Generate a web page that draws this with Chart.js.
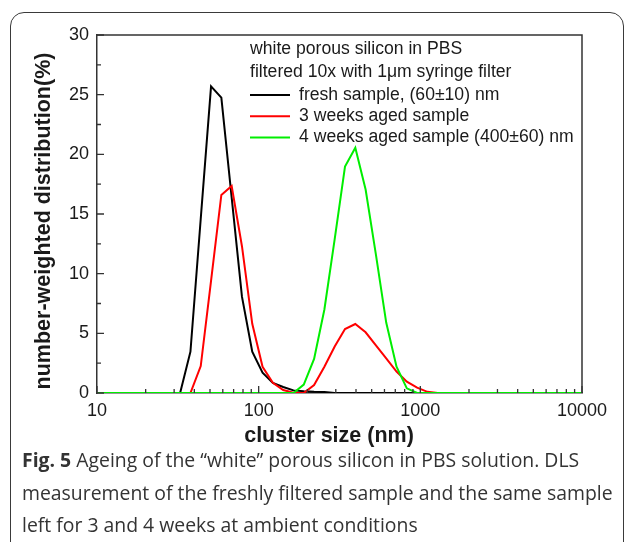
<!DOCTYPE html>
<html>
<head>
<meta charset="utf-8">
<script src="https://cdn.jsdelivr.net/npm/chart.js@4/dist/chart.umd.min.js"></script>
<style>
  html, body { margin: 0; padding: 0; background: #fff; }
  #wrap { position: relative; width: 630px; height: 542px; overflow: hidden; background: #fff; }
  #frame {
    position: absolute; left: 10px; top: 12px; width: 614px; height: 700px;
    border: 1.5px solid #3a3a3a; border-radius: 14px; box-sizing: border-box;
  }
  #dls-chart { position: absolute; left: 0; top: 0; }
  #caption {
    position: absolute; left: 22px; top: 444px; width: 600px;
    font-family: "Open Sans", "Noto Sans", sans-serif; font-size: 19.4px;
    line-height: 32.5px; color: #333; white-space: nowrap;
  }
  #caption b { font-weight: 700; }
</style>
</head>
<body>
<div id="wrap">
  <div id="frame"></div>
  <canvas id="dls-chart" width="630" height="542"></canvas>
  <div id="caption"><b>Fig. 5</b> Ageing of the “white” porous silicon in PBS solution. DLS<br>measurement of the freshly filtered sample and the same sample<br>left for 3 and 4 weeks at ambient conditions</div>
</div>
<script>
// DLS size bins (nm), log spaced
const sizes = [10, 32.67, 37.84, 43.82, 50.75, 58.77, 68.06, 78.82, 91.28, 105.7, 122.4, 141.8,
  164.2, 190.1, 220.2, 255.0, 295.3, 342.0, 396.1, 458.7, 531.2, 615.1, 712.4, 825.0, 955.4,
  1106, 1281, 1484, 10000];

// number-weighted distribution (%) per bin
const freshSample = [0, 0, 3.46, 14.6, 25.7, 24.75, 16.4, 8.07, 3.46, 1.7, 0.85, 0.5,
  0.22, 0.15, 0.1, 0.08, 0, 0, 0, 0, 0, 0, 0, 0, 0, 0, 0, 0, 0];
const weeks3Sample = [0, 0, 0, 2.26, 9.4, 16.6, 17.35, 12.3, 5.8, 2.2, 0.85, 0.25,
  0.03, 0, 0.67, 2.2, 3.9, 5.36, 5.78, 5.09, 4.0, 2.9, 1.8, 0.95, 0.45, 0.1, 0, 0, 0];
const weeks4Sample = [0, 0, 0, 0, 0, 0, 0, 0, 0, 0, 0, 0,
  0, 0.7, 2.85, 7.0, 12.9, 18.97, 20.55, 17.05, 11.6, 5.9, 2.2, 0.39, 0, 0, 0, 0, 0];

const seriesLabels = ['fresh sample, (60±10) nm', '3 weeks aged sample', '4 weeks aged sample (400±60) nm'];
const legendHeader = ['white porous silicon in PBS', 'filtered 10x with 1\u03bcm syringe filter'];
const xTicks = [10, 100, 1000, 10000];
const yTicks = [0, 5, 10, 15, 20, 25, 30];

const COLORS = {
  fresh: '#000000',
  weeks3: '#ff0000',
  weeks4: '#00ee00',
  axis: '#333333',
  text: '#1a1a1a'
};

const TICK_FONT = { family: '"Liberation Sans", Arial, sans-serif', size: 18 };

function toPoints(values) {
  return sizes.map((s, i) => ({ x: s, y: values[i] }));
}

// axis box, inward ticks, axis titles and the text legend
const decorations = {
  id: 'decorations',
  afterDraw: (chart) => {
    const ctx = chart.ctx;
    const area = chart.chartArea;
    const xs = chart.scales.x;
    const ys = chart.scales.y;
    ctx.save();

    // box
    ctx.strokeStyle = COLORS.axis;
    ctx.lineWidth = 1.5;
    ctx.beginPath();
    ctx.moveTo(area.left, area.top);
    ctx.lineTo(area.right, area.top);
    ctx.lineTo(area.right, area.bottom);
    ctx.stroke();

    // x ticks (major + minor, log)
    ctx.lineWidth = 1.3;
    ctx.beginPath();
    for (let dec = 10; dec <= 10000; dec *= 10) {
      for (let m = 1; m <= 9; m++) {
        const v = dec * m;
        if (v > 10000) break;
        const px = xs.getPixelForValue(v);
        const len = m === 1 ? 7 : 4;
        ctx.moveTo(px, area.bottom);
        ctx.lineTo(px, area.bottom - len);
      }
    }
    // y ticks (major every 5, minor every 2.5)
    for (let v = 0; v <= 30; v += 2.5) {
      const py = ys.getPixelForValue(v);
      const len = v % 5 === 0 ? 7 : 4;
      ctx.moveTo(area.left, py);
      ctx.lineTo(area.left + len, py);
    }
    ctx.stroke();

    // axis titles
    ctx.fillStyle = COLORS.text;
    ctx.font = 'bold 21.5px "Liberation Sans", Arial, sans-serif';
    ctx.textAlign = 'center';
    ctx.textBaseline = 'middle';
    ctx.fillText('cluster size (nm)', 329, 436);
    ctx.save();
    ctx.translate(44, 221);
    ctx.rotate(-Math.PI / 2);
    ctx.fillText('number-weighted distribution(%)', 0, 0);
    ctx.restore();

    // legend
    ctx.font = '17.6px "Liberation Sans", Arial, sans-serif';
    ctx.textAlign = 'left';
    ctx.fillText(legendHeader[0], 250, 49);
    ctx.fillText(legendHeader[1], 250, 72);
    chart.data.datasets.forEach((ds, i) => {
      const y = 95 + i * 21.3;
      ctx.strokeStyle = ds.borderColor;
      ctx.lineWidth = 2;
      ctx.beginPath();
      ctx.moveTo(250, y);
      ctx.lineTo(290, y);
      ctx.stroke();
      ctx.fillText(ds.label, 299, y);
    });

    ctx.restore();
  }
};

new Chart(document.getElementById('dls-chart'), {
  type: 'line',
  data: {
    datasets: [
      { label: seriesLabels[0], data: toPoints(freshSample), borderColor: COLORS.fresh, order: 2 },
      { label: seriesLabels[1], data: toPoints(weeks3Sample), borderColor: COLORS.weeks3, order: 1 },
      { label: seriesLabels[2], data: toPoints(weeks4Sample), borderColor: COLORS.weeks4, order: 0 }
    ]
  },
  options: {
    responsive: false,
    animation: false,
    devicePixelRatio: 1,
    elements: {
      point: { radius: 0 },
      line: { borderWidth: 2, tension: 0, fill: false }
    },
    layout: {
      padding: { left: 0, top: 35, right: 48, bottom: 89 }
    },
    plugins: {
      legend: { display: false },
      tooltip: { enabled: false },
      title: { display: false }
    },
    scales: {
      x: {
        type: 'logarithmic',
        min: 10,
        max: 10000,
        afterBuildTicks: (scale) => { scale.ticks = xTicks.map(v => ({ value: v })); },
        afterFit: (scale) => { scale.height = 60; },
        ticks: {
          font: TICK_FONT,
          color: COLORS.text,
          padding: 7,
          maxRotation: 0,
          autoSkip: false,
          callback: (v) => String(v)
        },
        grid: { display: false, drawTicks: false },
        border: { display: true, color: COLORS.axis, width: 1.5 }
      },
      y: {
        type: 'linear',
        min: 0,
        max: 30,
        afterBuildTicks: (scale) => { scale.ticks = yTicks.map(v => ({ value: v })); },
        afterFit: (scale) => { scale.width = 97; },
        ticks: {
          font: TICK_FONT,
          color: COLORS.text,
          padding: 8
        },
        grid: { display: false, drawTicks: false },
        border: { display: true, color: COLORS.axis, width: 1.5 }
      }
    }
  },
  plugins: [decorations]
});
</script>
</body>
</html>
